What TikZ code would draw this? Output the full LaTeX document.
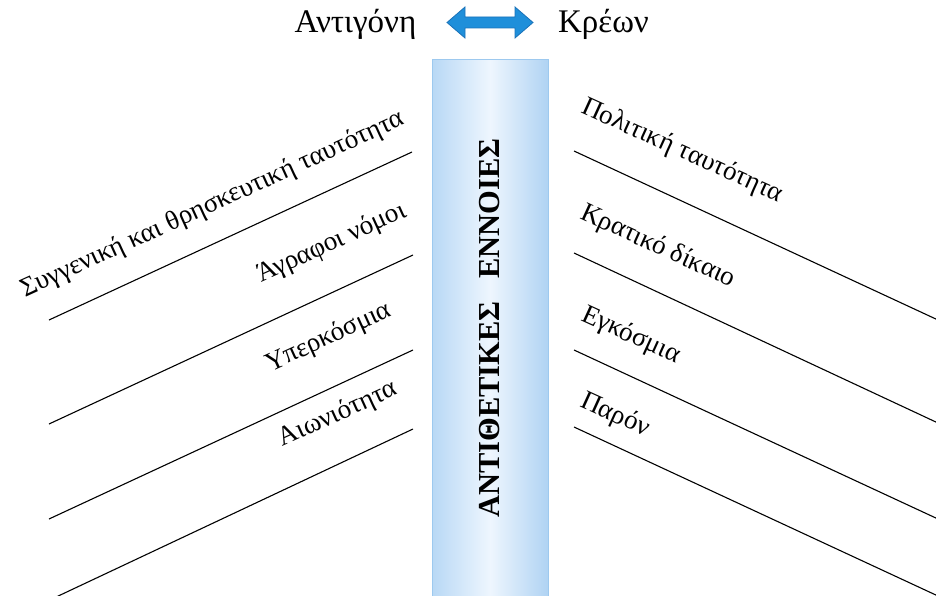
\documentclass[tikz,border=0pt]{standalone}
\usepackage{fontspec}
\setmainfont{Liberation Serif}
\begin{document}
\begin{tikzpicture}[x=1pt,y=1pt,
  rule/.style={line width=1.1pt, black},
  lbl/.style={inner sep=0pt, font=\fontsize{27}{32}\selectfont},
  leftlbl/.style={lbl, anchor=base east, rotate=24.5},
  rightlbl/.style={lbl, anchor=base west, rotate=-24.5},
  toplbl/.style={inner sep=0pt, font=\fontsize{33}{38}\selectfont, anchor=base},
  barbox/.style={draw=barline, line width=1pt, left color=barside, right color=barright, middle color=barmid}
]
\definecolor{barline}{HTML}{9DC9EF}
\definecolor{barside}{HTML}{B8D8F5}
\definecolor{barmid}{HTML}{EEF6FE}
\definecolor{barright}{HTML}{B0D3F3}
\definecolor{arrfill}{HTML}{1F8FDA}
\definecolor{arrline}{HTML}{1A72B8}
\useasboundingbox (0,0) rectangle (936,-596);

% central bar
\path[barbox] (432,-60) rectangle (548,-605);
\node (bartext) [rotate=90, inner sep=0pt, font=\bfseries\fontsize{30.5}{36}\selectfont] at (490,-328) {ΑΝΤΙΘΕΤΙΚΕΣ\hspace{0.5em} ΕΝΝΟΙΕΣ};

% top labels and arrow
\node (ant) [toplbl] at (355.5,-33) {Αντιγόνη};
\node (kre) [toplbl] at (603.5,-33) {Κρέων};
\draw[fill=arrfill, draw=arrline, line width=0.8pt]
  (447,-22.5) -- (465,-7) -- (465,-17) -- (515,-17) -- (515,-7) -- (533,-22.5)
  -- (515,-38) -- (515,-28) -- (465,-28) -- (465,-38) -- cycle;

% left lines
\coordinate (la1) at (49,-320);  \coordinate (lb1) at (412,-152);
\coordinate (la2) at (49,-424);  \coordinate (lb2) at (413,-255);
\coordinate (la3) at (49,-519);  \coordinate (lb3) at (413,-350);
\coordinate (la4) at (54,-598);  \coordinate (lb4) at (413,-429);
\draw[rule] (la1) -- (lb1);
\draw[rule] (la2) -- (lb2);
\draw[rule] (la3) -- (lb3);
\draw[rule] (la4) -- (lb4);

% right lines
\coordinate (ra1) at (574,-151); \coordinate (rb1) at (938,-320);
\coordinate (ra2) at (574,-253); \coordinate (rb2) at (938,-423);
\coordinate (ra3) at (574,-350); \coordinate (rb3) at (938,-519);
\coordinate (ra4) at (574,-427); \coordinate (rb4) at (938,-596);
\draw[rule] (ra1) -- (rb1);
\draw[rule] (ra2) -- (rb2);
\draw[rule] (ra3) -- (rb3);
\draw[rule] (ra4) -- (rb4);

% left labels
\node (l1) [leftlbl] at (406,-124) {Συγγενική και θρησκευτική ταυτότητα};
\node (l2) [leftlbl] at (408,-216) {Άγραφοι νόμοι};
\node (l3) [leftlbl] at (393,-316) {Υπερκόσμια};
\node (l4) [leftlbl] at (399,-394) {Αιωνιότητα};

% right labels
\node (r1) [rightlbl] at (580,-112) {Πολιτική ταυτότητα};
\node (r2) [rightlbl] at (579,-218) {Κρατικό δίκαιο};
\node (r3) [rightlbl] at (580,-320) {Εγκόσμια};
\node (r4) [rightlbl] at (579,-406) {Παρόν};
\end{tikzpicture}
\end{document}
